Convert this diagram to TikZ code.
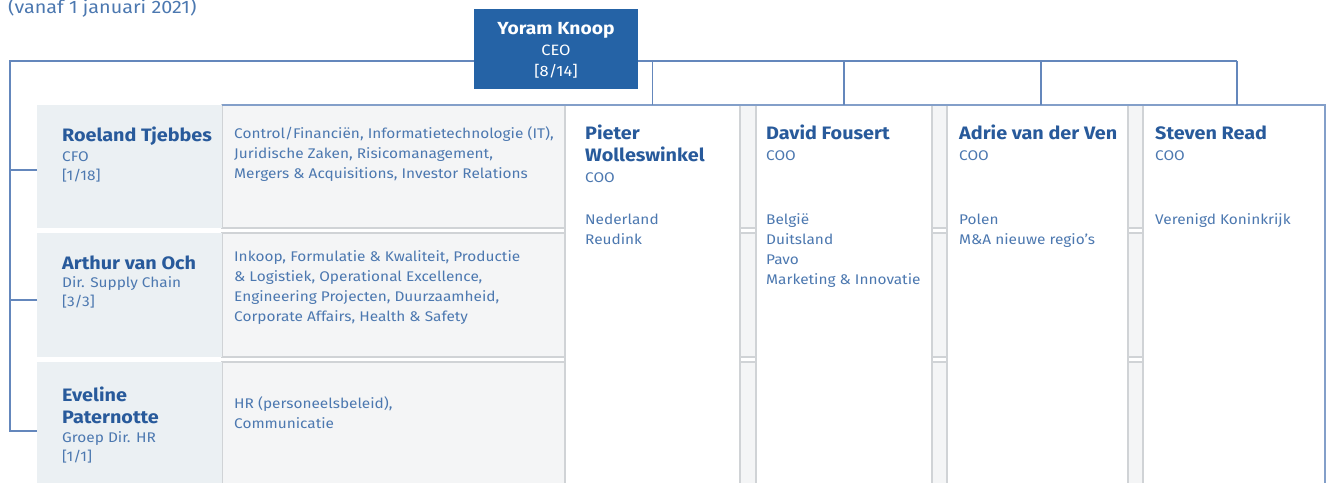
\documentclass[tikz,border=0pt]{standalone}
\usepackage{fontspec}
\setmainfont{Fira Sans}[FakeStretch=1.1]
\definecolor{ceoblue}{RGB}{37,99,166}
\definecolor{lineblue}{RGB}{100,135,188}
\definecolor{namecol}{RGB}{40,90,155}
\definecolor{textcol}{RGB}{76,120,176}
\definecolor{namebg}{RGB}{235,240,243}
\definecolor{rowbg}{RGB}{244,245,246}
\definecolor{grayline}{RGB}{208,211,214}
\begin{document}
\begin{tikzpicture}[x=1pt,y=-1pt,
  namebox/.style={fill=namebg, draw=none, anchor=north west, inner sep=0, outer sep=0},
  rowbox/.style={fill=rowbg, draw=grayline, line width=1.2pt, anchor=north west, inner sep=0, outer sep=0},
  colbox/.style={fill=white, draw=grayline, line width=1.2pt, anchor=north west, inner sep=0, outer sep=0},
  ceobox/.style={fill=ceoblue, draw=none, inner sep=0, outer sep=0, minimum width=164, minimum height=80},
  conn/.style={draw=lineblue, line width=1.3pt},
  border/.style={draw=lineblue!80, line width=1.3pt},
  nm/.style={anchor=base west, inner sep=0, text=namecol, align=left, font=\fontsize{18}{22}\selectfont\bfseries},
  sub/.style={anchor=base west, inner sep=0, text=textcol, align=left, font=\fontsize{14}{19.8}\selectfont},
  desc/.style={anchor=base west, inner sep=0, text=textcol, align=left, font=\fontsize{14}{20.3}\selectfont}
]
\useasboundingbox (0,0) rectangle (1330,482);
\clip (0,0) rectangle (1330,482);

% title
\node[anchor=base west, inner sep=0, text=textcol, font=\fontsize{18}{18}\selectfont] (title) at (8,13) {(vanaf 1 januari 2021)};

% rows (description boxes extending under the columns)
\node[rowbox, minimum width=1103, minimum height=123] (d1) at (222,105) {};
\node[rowbox, minimum width=1103, minimum height=124] (d2) at (222,233) {};
\node[rowbox, minimum width=1103, minimum height=140] (d3) at (222,362) {};

% name boxes
\node[namebox, minimum width=185, minimum height=123] (n1) at (37,105) {};
\node[namebox, minimum width=185, minimum height=124] (n2) at (37,233) {};
\node[namebox, minimum width=185, minimum height=140] (n3) at (37,362) {};

% COO columns
\node[colbox, minimum width=175, minimum height=395] (c1) at (565,105) {};
\node[colbox, minimum width=176, minimum height=395] (c2) at (756,105) {};
\node[colbox, minimum width=181, minimum height=395] (c3) at (947,105) {};
\node[colbox, minimum width=182, minimum height=395] (c4) at (1143,105) {};

% outer blue border
\draw[border] (d1.north west) -- (c4.north east) -- (c4.south east);

% connectors
\coordinate (lt) at (10,61);
\coordinate (rt) at (1237,61);
\draw[conn] (rt) -- (lt) |- ([yshift=1pt]n3.west);
\draw[conn] (rt) -- (rt |- c4.north);
\draw[conn] (c1.north) -- (c1.north |- lt);
\draw[conn] (c2.north) -- (c2.north |- lt);
\draw[conn] ([xshift=3.5pt]c3.north) -- ([xshift=3.5pt]c3.north |- lt);
\draw[conn] (lt |- n1.west) ++(0,3.5) -- ([yshift=-3.5pt]n1.west);
\draw[conn] ([yshift=-5pt]n2.west) -- ([yshift=-5pt]lt |- n2.west);

% CEO
\node[ceobox] (ceo) at (556,49) {};
\node[anchor=base, inner sep=0, text=white, font=\fontsize{17.5}{18}\selectfont\bfseries] (ceoname) at (556,34) {Yoram Knoop};
\node[anchor=base, inner sep=0, text=white, align=center, font=\fontsize{15}{21}\selectfont] (ceorole) at (556,76) {CEO\\{[8/14]}};

% row 1
\node[nm] (t1) at (62,141) {Roeland Tjebbes};
\node[sub] (s1) at (62,180.8) {CFO\\{[1/18]}};
\node[desc] (e1) at (234,178.6) {Control/Financiën, Informatietechnologie (IT),\\Juridische Zaken, Risicomanagement,\\Mergers \& Acquisitions, Investor Relations};

% row 2
\node[nm] (t2) at (62,269) {Arthur van Och};
\node[sub] (s2) at (62,306.8) {Dir. Supply Chain\\{[3/3]}};
\node[desc] (e2) at (234,321.9) {Inkoop, Formulatie \& Kwaliteit, Productie\\\& Logistiek, Operational Excellence,\\Engineering Projecten, Duurzaamheid,\\Corporate Affairs, Health \& Safety};

% row 3
\node[nm] (t3) at (62,423) {Eveline\\Paternotte};
\node[sub] (s3) at (62,461.8) {Groep Dir. HR\\{[1/1]}};
\node[desc] (e3) at (234,428.3) {HR (personeelsbeleid),\\Communicatie};

% COO texts
\node[nm] (p1) at (585,161) {Pieter\\Wolleswinkel};
\node[sub] (q1) at (585,182) {COO};
\node[desc] (r1) at (585,244.3) {Nederland\\Reudink};

\node[nm] (p2) at (766,139) {David Fousert};
\node[sub] (q2) at (766,160) {COO};
\node[desc] (r2) at (766,284.9) {België\\Duitsland\\Pavo\\Marketing \& Innovatie};

\node[nm] (p3) at (959,139) {Adrie van der Ven};
\node[sub] (q3) at (959,160) {COO};
\node[desc] (r3) at (959,244.3) {Polen\\M\&A nieuwe regio's};

\node[nm] (p4) at (1155,139) {Steven Read};
\node[sub] (q4) at (1155,160) {COO};
\node[desc] (r4) at (1155,224) {Verenigd Koninkrijk};
\end{tikzpicture}
\end{document}
